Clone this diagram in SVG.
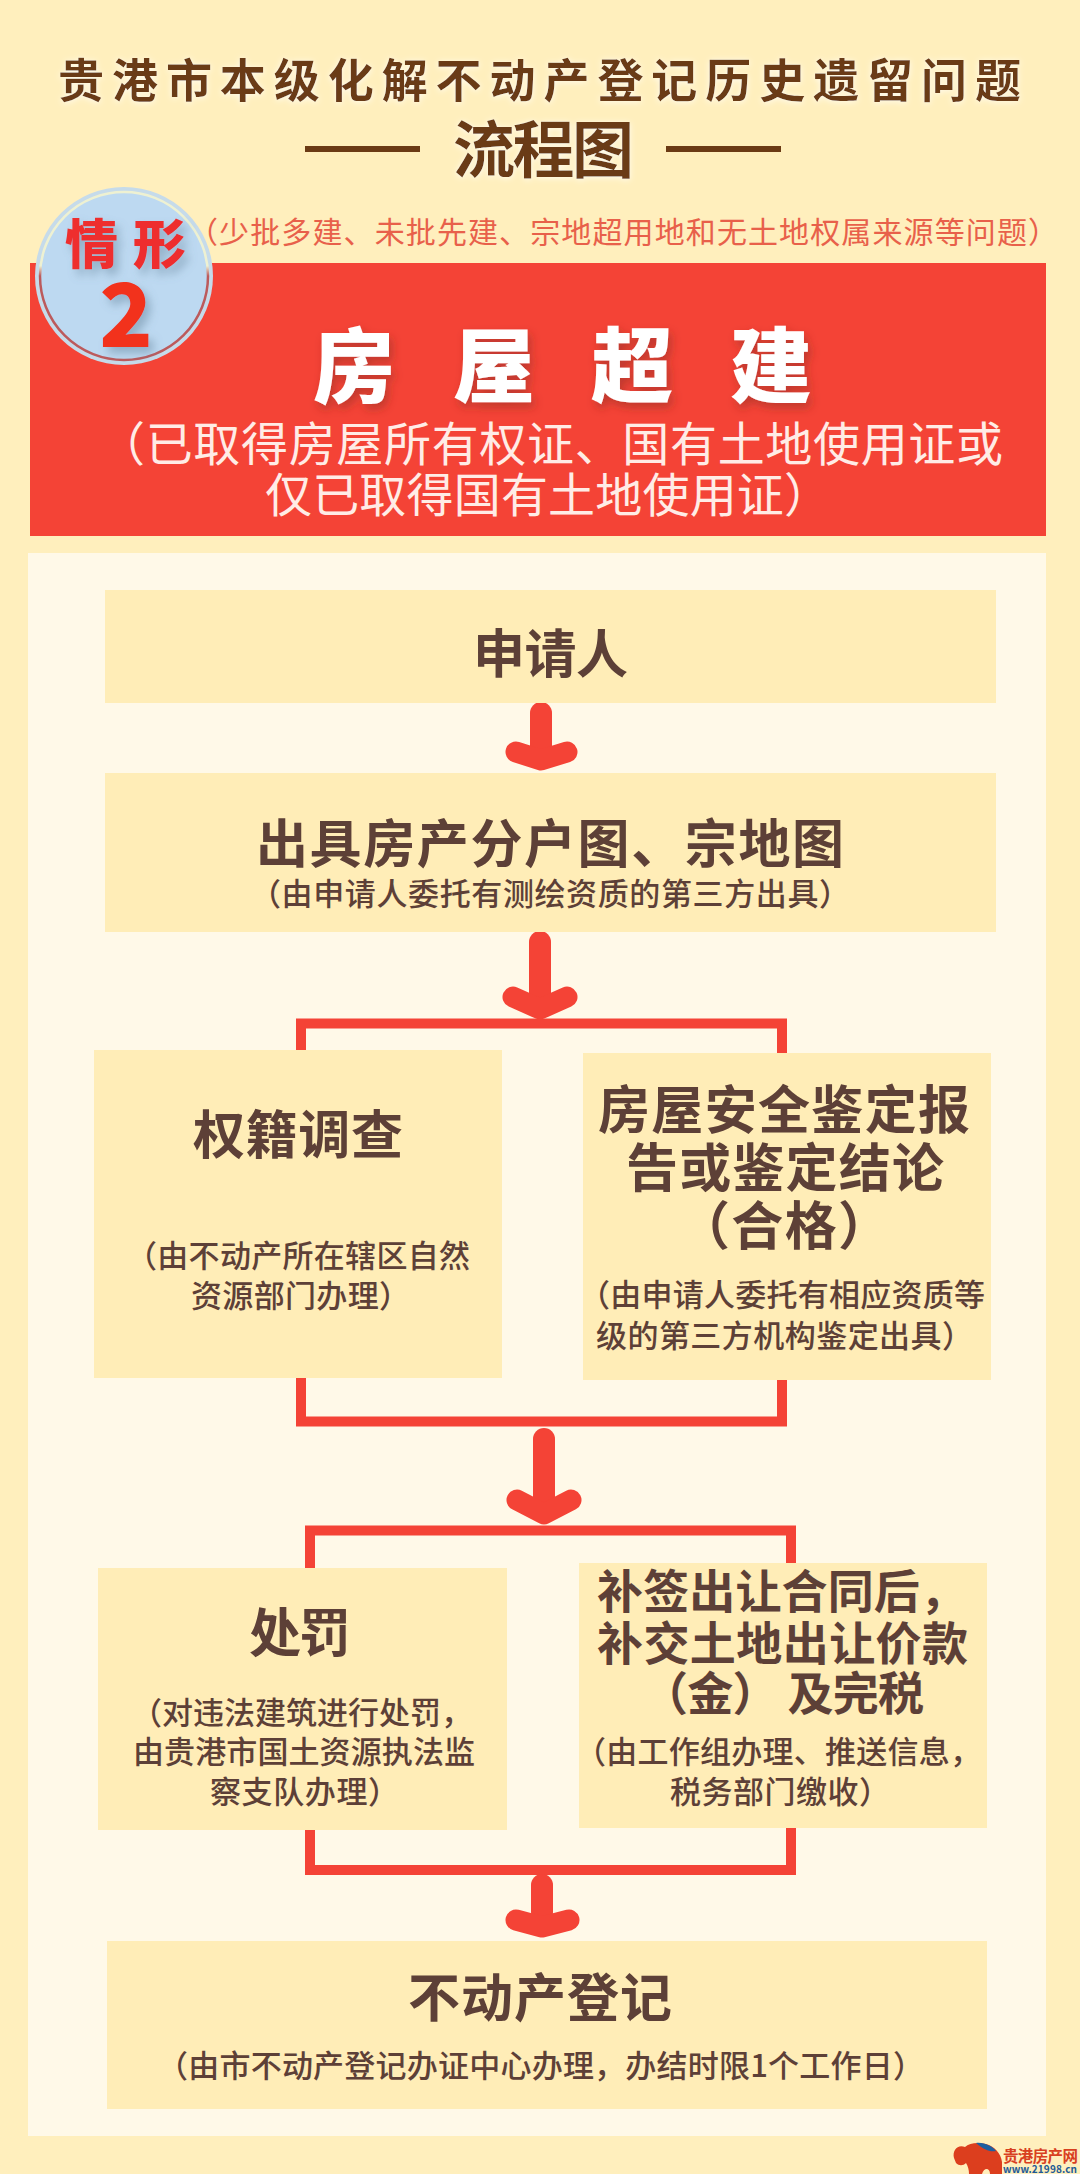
<svg xmlns="http://www.w3.org/2000/svg" width="1080" height="2174" viewBox="0 0 1080 2174">
<defs>
<style>
text{font-family:"Noto Sans CJK SC","Noto Sans",sans-serif;}
.box{fill:#FFEDB7;}
.h{fill:#5D4037;font-weight:700;font-size:52px;}
.m{font-size:46px;}
.s{fill:#5D4037;font-weight:500;font-size:31px;}
.title{fill:#6B3A14;font-weight:700;}
.banner{fill:#FFECE6;font-size:47px;font-weight:400;}
.line{fill:none;stroke:#F44336;stroke-width:10;stroke-linejoin:miter;}
.shaft{fill:none;stroke:#F44336;stroke-width:22;stroke-linecap:round;}
.head{fill:none;stroke:#F44336;stroke-width:21;stroke-linecap:round;stroke-linejoin:round;}
</style>
<filter id="soft" x="-20%" y="-20%" width="140%" height="150%"><feDropShadow dx="3" dy="5" stdDeviation="5" flood-color="#7A2A20" flood-opacity="0.45"/></filter>
<filter id="glow" x="-5%" y="-20%" width="110%" height="140%"><feDropShadow dx="0" dy="1" stdDeviation="3" flood-color="#FFFFFF" flood-opacity="0.8"/></filter>
<filter id="shade" x="-20%" y="-20%" width="150%" height="150%"><feDropShadow dx="5" dy="6" stdDeviation="5" flood-color="#5A7890" flood-opacity="0.45"/></filter>
<linearGradient id="ring" x1="0" y1="0" x2="0" y2="1"><stop offset="0" stop-color="#EEF1D2"/><stop offset="0.44" stop-color="#EEF1D2"/><stop offset="0.5" stop-color="#BC5A5C"/><stop offset="1" stop-color="#BC5A5C"/></linearGradient>
</defs>
<rect width="1080" height="2174" fill="#FFEFBD"/>
<g id="header">
<text class="title" x="58" y="97" font-size="46" textLength="963" filter="url(#glow)">贵港市本级化解不动产登记历史遗留问题</text>
<rect x="305" y="146" width="115" height="6" fill="#6B3A14"/>
<text class="title" x="453" y="173" font-size="62" textLength="181" filter="url(#glow)">流程图</text>
<rect x="666" y="146" width="115" height="6" fill="#6B3A14"/>
<text x="188" y="243" font-size="30" fill="#E8604A" textLength="870">&#xFF08;少批多建、未批先建、宗地超用地和无土地权属来源等问题&#xFF09;</text>
</g>
<g id="banner">
<rect x="30" y="263" width="1016" height="273" fill="#F44336"/>
<text x="313 453 591 730" y="396" font-size="82" font-weight="900" fill="#FFFFFF" filter="url(#soft)">房屋超建</text>
<text class="banner" x="98" y="461" textLength="905">&#xFF08;已取得房屋所有权证、国有土地使用证或</text>
<text class="banner" x="265" y="512" textLength="566">仅已取得国有土地使用证&#xFF09;</text>
</g>
<g id="badge">
<circle cx="124" cy="276" r="89" fill="#C6DBEA"/>
<circle cx="124" cy="276" r="84" fill="#BDD9F1" stroke="url(#ring)" stroke-width="2.500"/>
<g filter="url(#shade)">
<text x="65 133" y="264" font-size="53" font-weight="900" fill="#EE2F2F">情形</text>
<text x="126" y="347" font-size="88" font-weight="900" fill="#F2301E" text-anchor="middle" font-family="Noto Sans">2</text>
</g>
</g>
<rect id="panel" x="28" y="553" width="1018" height="1583" fill="#FFF9E8"/>
<g id="connectors">
<path class="shaft" d="M541 713V752"/><path class="head" d="M516 752L541 760L567 752"/>
<path class="shaft" d="M540 942V1000"/><path class="head" d="M513 997L540 1009L567 997"/>
<path class="line" d="M301 1050V1023.500H782V1053"/>
<path class="line" d="M301 1378V1421.500H782V1380"/>
<path class="shaft" d="M544 1439V1505"/><path class="head" d="M517 1500L544 1514L571 1500"/>
<path class="line" d="M310 1568V1530.500H791V1563"/>
<path class="line" d="M310 1830V1870H791V1828"/>
<path class="shaft" d="M542 1885V1912"/><path class="head" d="M516 1920L542 1927L569 1920"/>
</g>
<g id="node-applicant">
<rect class="box" x="105" y="590" width="891" height="113"/>
<text class="h" x="473" y="673" textLength="155">申请人</text>
</g>
<g id="node-survey">
<rect class="box" x="105" y="773" width="891" height="159"/>
<text class="h" x="256" y="863" textLength="588">出具房产分户图、宗地图</text>
<text class="s" x="250" y="905" textLength="600">&#xFF08;由申请人委托有测绘资质的第三方出具&#xFF09;</text>
</g>
<g id="node-cadastral">
<rect class="box" x="94" y="1050" width="408" height="328"/>
<text class="h" x="193" y="1154" textLength="210">权籍调查</text>
<text class="s" x="126" y="1267" textLength="344">&#xFF08;由不动产所在辖区自然</text>
<text class="s" x="191" y="1307" textLength="219">资源部门办理&#xFF09;</text>
</g>
<g id="node-safety">
<rect class="box" x="583" y="1053" width="408" height="327"/>
<text class="h" x="598" y="1129" textLength="372">房屋安全鉴定报</text>
<text class="h" x="626" y="1187" textLength="318">告或鉴定结论</text>
<text class="h" x="678" y="1245" textLength="212">&#xFF08;合格&#xFF09;</text>
<text class="s" x="579" y="1306" textLength="406">&#xFF08;由申请人委托有相应资质等</text>
<text class="s" x="596" y="1347" textLength="377">级的第三方机构鉴定出具&#xFF09;</text>
</g>
<g id="node-penalty">
<rect class="box" x="98" y="1568" width="409" height="262"/>
<text class="h" x="249" y="1652" textLength="102">处罚</text>
<text class="s" x="131" y="1724" textLength="341">&#xFF08;对违法建筑进行处罚&#xFF0C;</text>
<text class="s" x="133" y="1763" textLength="342">由贵港市国土资源执法监</text>
<text class="s" x="210" y="1803" textLength="189">察支队办理&#xFF09;</text>
</g>
<g id="node-contract">
<rect class="box" x="579" y="1563" width="408" height="265"/>
<text class="h m" x="597" y="1608" textLength="369">补签出让合同后&#xFF0C;</text>
<text class="h m" x="597" y="1660" textLength="371">补交土地出让价款</text>
<text class="h m" x="642" y="1710" textLength="282">&#xFF08;金&#xFF09; 及完税</text>
<text class="s" x="575" y="1763" textLength="406">&#xFF08;由工作组办理、推送信息&#xFF0C;</text>
<text class="s" x="670" y="1803" textLength="220">税务部门缴收&#xFF09;</text>
</g>
<g id="node-register">
<rect class="box" x="107" y="1941" width="880" height="168"/>
<text class="h" x="408" y="2017" textLength="264">不动产登记</text>
<text class="s" x="157" y="2077" textLength="767">&#xFF08;由市不动产登记办证中心办理&#xFF0C;办结时限1个工作日&#xFF09;</text>
</g>
<g id="watermark">
<path d="M954 2158C952 2150 958 2144 965 2147C969 2143 978 2142 986 2144C994 2146 1001 2153 1002 2162L1002 2174H990C990 2168 984 2167 982 2174H969C969 2170 968 2166 966 2163C963 2166 959 2166 956 2163Z" fill="#DC3E1E"/>
<path d="M976 2143C984 2142 992 2146 996 2151C990 2152 984 2150 976 2143Z" fill="#1D5FA0"/>
<text x="1003" y="2162" font-size="15.500" font-weight="700" fill="#D8401F" textLength="75">贵港房产网</text>
<text x="1003" y="2173" font-size="10" font-weight="700" fill="#1E5A96" textLength="74" font-family="Liberation Sans">www.21998.cn</text>
</g>
</svg>
